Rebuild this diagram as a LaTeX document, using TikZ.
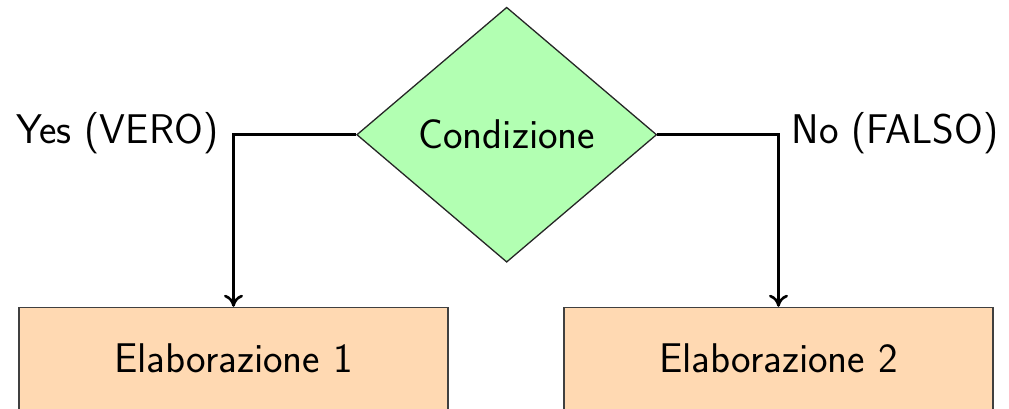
\documentclass[tikz,border=0pt]{standalone}
\usepackage{fontspec}
\usetikzlibrary{shapes.geometric,arrows.meta}
\begin{document}
\begin{tikzpicture}[x=1pt,y=-1pt,
  every node/.style={font=\sffamily\fontsize{41.5}{50}\selectfont},
  decision/.style={diamond,draw=black!85,line width=1.3pt,fill=green!30,minimum width=300pt,minimum height=255pt,inner sep=0pt},
  process/.style={rectangle,draw=black!75,line width=1.5pt,fill=orange!30,minimum width=429pt,minimum height=102pt,inner sep=0pt},
  conn/.style={line width=2.6pt,-{To[length=12pt,width=19pt,line width=2.6pt]}},
  lbl/.style={inner sep=0pt,anchor=base}]
\useasboundingbox (0,0) rectangle (1009,408);
\node[decision] (cond) at (506.7,134.7) {Condizione};
\node[process] (p1) at (233.5,358.5) {Elaborazione 1};
\node[process] (p2) at (778.5,358.5) {Elaborazione 2};
\node[lbl] (yes) at (117.5,143) {Yes (VERO)};
\node[lbl] (no) at (895,143) {No (FALSO)};
\draw[conn] (cond.west) -| (p1.north);
\draw[conn] (cond.east) -| (p2.north);
\end{tikzpicture}
\end{document}
